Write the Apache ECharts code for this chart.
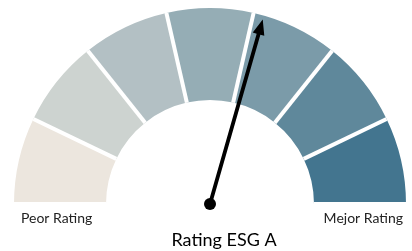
<!DOCTYPE html>
<html>
<head>
<meta charset="utf-8">
<script src="https://cdn.jsdelivr.net/npm/echarts@6/dist/echarts.min.js"></script>
<style>
  html, body { margin: 0; padding: 0; background: #fff; }
  #main { width: 412px; height: 251px; }
</style>
</head>
<body>
<div id="main"></div>
<script>
// datos del gauge
var segmentColors = ["#ece6de", "#cdd3d0", "#b3c0c4", "#95adb5", "#7b9ba9", "#5f889b", "#43758f"];
var ratingValue = [4.12];
var ratingName = ["Rating ESG A"];
var endLabels = ["Peor Rating", "Mejor Rating"];

var chart = echarts.init(document.getElementById("main"));

var n = segmentColors.length;
var bands = segmentColors.map(function (c, i) {
  return [(i + 1) / n, c];
});

chart.setOption({
  animation: false,
  series: [
    {
      type: "gauge",
      center: [210, 204],
      radius: 196,
      startAngle: 180,
      endAngle: 0,
      min: 0,
      max: n,
      splitNumber: n,
      axisLine: {
        lineStyle: { width: 92, color: bands }
      },
      splitLine: {
        show: true,
        distance: -92,
        length: 92,
        lineStyle: { color: "#fff", width: 4 }
      },
      axisTick: { show: false },
      axisLabel: { show: false },
      pointer: {
        icon: "path://M5,0 L10,8 L6.6,8 L6.6,100 L3.4,100 L3.4,8 L0,8 Z",
        length: 192,
        width: 12,
        offsetCenter: [0, 0],
        itemStyle: { color: "#000" }
      },
      anchor: {
        show: true,
        size: 12,
        itemStyle: { color: "#000" }
      },
      title: {
        offsetCenter: [14, 36],
        fontSize: 18,
        color: "#000",
        fontFamily: "Lato"
      },
      detail: { show: false },
      data: [{ value: ratingValue[0], name: ratingName[0] }]
    }
  ],
  graphic: [
    {
      type: "text",
      x: 21,
      y: 218,
      style: { text: endLabels[0], fontSize: 14, fill: "#222", fontFamily: "Lato", align: "left", verticalAlign: "middle" }
    },
    {
      type: "text",
      x: 403,
      y: 218,
      style: { text: endLabels[1], fontSize: 14, fill: "#222", fontFamily: "Lato", align: "right", verticalAlign: "middle" }
    }
  ]
});
</script>
</body>
</html>
